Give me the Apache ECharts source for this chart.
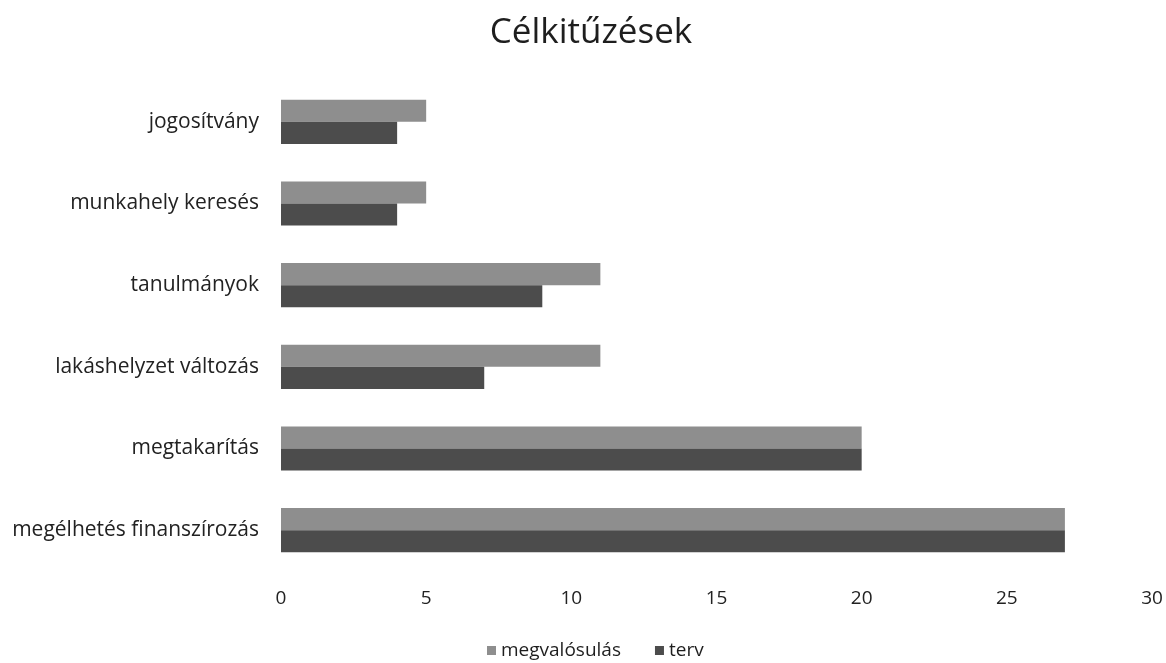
<!DOCTYPE html>
<html>
<head>
<meta charset="utf-8">
<script src="https://cdn.jsdelivr.net/npm/echarts@6/dist/echarts.min.js"></script>
<style>html,body{margin:0;padding:0;background:#fff;}#c{width:1166px;height:663px;}</style>
</head>
<body>
<div id="c"></div>
<script>
const categories = ['megélhetés finanszírozás', 'megtakarítás', 'lakáshelyzet változás', 'tanulmányok', 'munkahely keresés', 'jogosítvány'];
const megvalosulas = [27, 20, 11, 11, 5, 5];
const terv = [27, 20, 7, 9, 4, 4];
const xTicks = [0, 5, 10, 15, 20, 25, 30];

const chart = echarts.init(document.getElementById('c'));
const font = '"Open Sans", sans-serif';
chart.setOption({
  backgroundColor: '#fff',
  title: {
    text: 'Célkitűzések', left: 586, top: 11, textAlign: 'center',
    textStyle: { fontFamily: font, fontSize: 35, fontWeight: 'normal', color: '#1e1e1e' }
  },
  legend: {
    bottom: -2, left: 482, itemWidth: 9, itemHeight: 9, itemGap: 34,
    icon: 'rect',
    textStyle: { fontFamily: font, fontSize: 19, color: '#1e1e1e' },
    data: ['megvalósulás', 'terv']
  },
  grid: { left: 281, right: 14, top: 81, bottom: 92 },
  xAxis: {
    type: 'value', min: xTicks[0], max: xTicks[xTicks.length - 1], interval: 5,
    axisLine: { show: false }, axisTick: { show: false }, splitLine: { show: false },
    axisLabel: { margin: 18, fontFamily: font, fontSize: 19, color: '#222' }
  },
  yAxis: {
    type: 'category', data: categories,
    axisLine: { show: false }, axisTick: { show: false },
    axisLabel: { margin: 22, fontFamily: font, fontSize: 21, color: '#222' }
  },
  series: [
    { name: 'megvalósulás', type: 'bar', data: megvalosulas, barGap: '0%', barCategoryGap: '46%',
      itemStyle: { color: '#8e8e8e' }, z: 2 },
    { name: 'terv', type: 'bar', data: terv, barGap: '0%', barCategoryGap: '46%',
      itemStyle: { color: '#4c4c4c' } }
  ]
});
</script>
</body>
</html>
